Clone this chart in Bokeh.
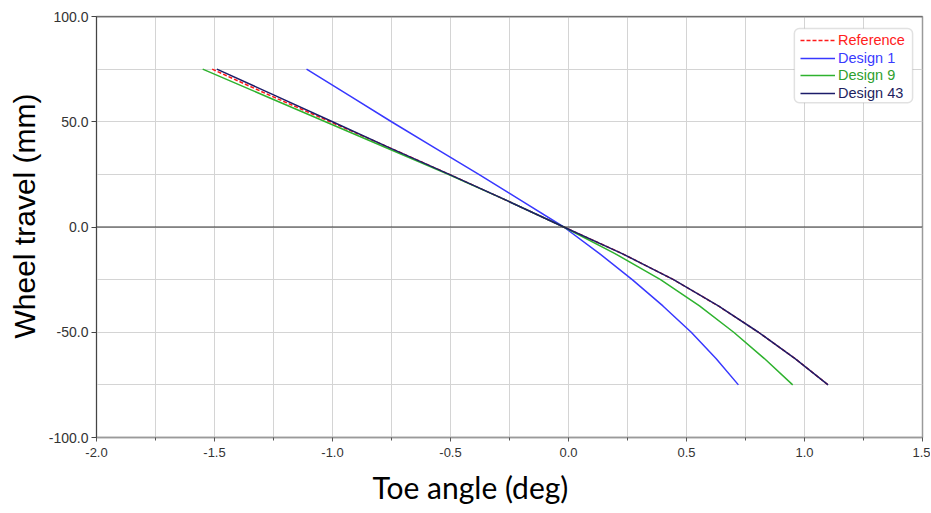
from bokeh.plotting import figure
from bokeh.models import (Range1d, FixedTicker, NumeralTickFormatter, Span, Legend,
                          LegendItem, BoxAnnotation, Title)
from bokeh.embed import file_html
from bokeh.resources import INLINE

# ---- data ----
wheel_travel = [75, 62.5, 50, 37.5, 25, 12.5, 0, -12.5, -25, -37.5, -50, -62.5, -75]
toe_reference = [-1.51, -1.265, -1.01, -0.755, -0.505, -0.26, -0.02, 0.225, 0.445, 0.635, 0.805, 0.96, 1.10]
toe_design1 = [-1.11, -0.93, -0.75, -0.565, -0.38, -0.20, -0.02, 0.13, 0.27, 0.40, 0.52, 0.625, 0.72]
toe_design9 = [-1.55, -1.29, -1.03, -0.77, -0.51, -0.26, -0.02, 0.195, 0.39, 0.555, 0.70, 0.83, 0.95]
toe_design43 = [-1.49, -1.245, -1.00, -0.755, -0.505, -0.26, -0.02, 0.225, 0.445, 0.635, 0.805, 0.96, 1.10]

x_major = [-2.0, -1.5, -1.0, -0.5, 0.0, 0.5, 1.0, 1.5]
x_minor = [-1.75, -1.25, -0.75, -0.25, 0.25, 0.75, 1.25]
y_major = [-100, -50, 0, 50, 100]
y_minor = [-75, -25, 25, 75]

x_title = "Toe angle (deg)"
y_title = "Wheel travel (mm)"

p = figure(width=930, height=513, output_backend="svg", toolbar_location=None,
           x_range=Range1d(-2.0, 1.5), y_range=Range1d(-100, 100),
           min_border_left=96, min_border_right=8, min_border_top=16, min_border_bottom=76)
p.background_fill_color = "white"
p.border_fill_color = "white"
p.outline_line_color = "#9a9a9a"
p.outline_line_width = 1.5

grid_col = "#d4d4d4"
p.xaxis.ticker = FixedTicker(ticks=x_major, minor_ticks=x_minor)
p.yaxis.ticker = FixedTicker(ticks=y_major, minor_ticks=y_minor)
p.xaxis.formatter = NumeralTickFormatter(format="0.0")
p.yaxis.formatter = NumeralTickFormatter(format="0.0")
for g in (p.xgrid, p.ygrid):
    g.grid_line_color = grid_col
    g.grid_line_width = 1
    g.minor_grid_line_color = grid_col
    g.minor_grid_line_width = 1

p.yaxis.axis_line_color = "#444444"
p.yaxis.major_tick_line_color = "#444444"
p.yaxis.major_tick_out = 5
p.yaxis.major_tick_in = 0
p.yaxis.minor_tick_out = 0
p.yaxis.minor_tick_in = 0
p.yaxis.major_label_text_font = "Liberation Sans"
p.yaxis.major_label_text_font_size = "14px"
p.yaxis.major_label_text_color = "#333333"
p.yaxis.major_label_standoff = 3

p.xaxis.axis_line_color = "#9a9a9a"
p.xaxis.axis_line_width = 1.5
p.xaxis.major_tick_line_color = "#555555"
p.xaxis.minor_tick_line_color = "#555555"
p.xaxis.major_tick_out = 4
p.xaxis.major_tick_in = 0
p.xaxis.minor_tick_out = 3
p.xaxis.minor_tick_in = 0
p.xaxis.major_label_text_font = "Liberation Sans"
p.xaxis.major_label_text_font_size = "13px"
p.xaxis.major_label_text_color = "#333333"
p.xaxis.major_label_standoff = 6

# zero line and top border
p.add_layout(Span(location=0, dimension="width", line_color="#333333", line_width=1))
p.add_layout(Span(location=100, dimension="width", line_color="#444444", line_width=1.5))

r_ref = p.line(toe_reference, wheel_travel, line_color="#ff1a1a", line_width=1.5, line_dash="4 2")
r_d1 = p.line(toe_design1, wheel_travel, line_color="#3838ff", line_width=1.5)
r_d9 = p.line(toe_design9, wheel_travel, line_color="#2eb22e", line_width=1.5)
r_d43 = p.line(toe_design43, wheel_travel, line_color="#1c1c6a", line_width=1.5)

# legend box
p.add_layout(BoxAnnotation(left=0.957, right=1.458, bottom=59.0, top=94.3,
                           fill_color="white", fill_alpha=1.0,
                           line_color="#9a9a9a", line_width=1.5, border_radius=5))

entries = [("Reference", r_ref, "#ff2020", 389),
           ("Design 1", r_d1, "#3a3aff", 371.5),
           ("Design 9", r_d9, "#2ea02e", 354),
           ("Design 43", r_d43, "#1e1e60", 336.5)]
for name, rend, col, yloc in entries:
    leg = Legend(items=[LegendItem(label=name, renderers=[rend])], location=(704, yloc),
                 label_text_color=col, label_text_font="Liberation Sans",
                 label_text_font_size="14.5px", glyph_width=35, glyph_height=14,
                 label_height=14, padding=0, margin=0, spacing=0, label_standoff=3,
                 border_line_alpha=0, background_fill_alpha=0)
    p.add_layout(leg)

# axis titles
p.add_layout(Title(text=x_title, align="left", offset=276, standoff=14, text_font="Lato",
                   text_font_size="30px", text_font_style="normal", text_color="#000000"),
             "below")
p.add_layout(Title(text=y_title, align="left", offset=99, text_font="Liberation Sans",
                   text_font_size="30px", text_font_style="normal", text_color="#000000"),
             "left")

open("out.html", "w").write(file_html(p, INLINE))
